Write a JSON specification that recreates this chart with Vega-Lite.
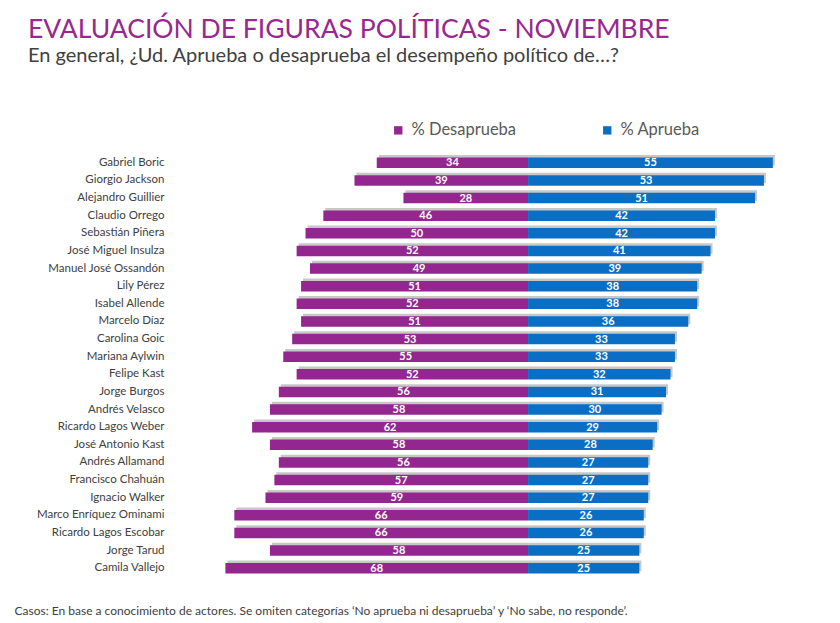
{
  "$schema": "https://vega.github.io/schema/vega-lite/v6.json",
  "width": 630,
  "height": 423,
  "autosize": {"type": "none"},
  "padding": {"left": 170, "top": 154, "right": 40, "bottom": 46},
  "background": "white",
  "title": {
    "text": "EVALUACIÓN DE FIGURAS POLÍTICAS - NOVIEMBRE",
    "subtitle": "En general, ¿Ud. Aprueba o desaprueba el desempeño político de…?",
    "anchor": "start",
    "frame": "group",
    "dx": -142,
    "offset": 56,
    "font": "Lato",
    "fontSize": 26.5,
    "fontWeight": "normal",
    "color": "#97288F",
    "subtitleFont": "Lato",
    "subtitleFontSize": 20,
    "subtitleColor": "#404040",
    "subtitlePadding": 3
  },
  "data": {
    "values": [
      {"name": "Gabriel Boric", "% Desaprueba": 34, "% Aprueba": 55},
      {"name": "Giorgio Jackson", "% Desaprueba": 39, "% Aprueba": 53},
      {"name": "Alejandro Guillier", "% Desaprueba": 28, "% Aprueba": 51},
      {"name": "Claudio Orrego", "% Desaprueba": 46, "% Aprueba": 42},
      {"name": "Sebastián Piñera", "% Desaprueba": 50, "% Aprueba": 42},
      {"name": "José Miguel Insulza", "% Desaprueba": 52, "% Aprueba": 41},
      {"name": "Manuel José Ossandón", "% Desaprueba": 49, "% Aprueba": 39},
      {"name": "Lily Pérez", "% Desaprueba": 51, "% Aprueba": 38},
      {"name": "Isabel Allende", "% Desaprueba": 52, "% Aprueba": 38},
      {"name": "Marcelo Díaz", "% Desaprueba": 51, "% Aprueba": 36},
      {"name": "Carolina Goic", "% Desaprueba": 53, "% Aprueba": 33},
      {"name": "Mariana Aylwin", "% Desaprueba": 55, "% Aprueba": 33},
      {"name": "Felipe Kast", "% Desaprueba": 52, "% Aprueba": 32},
      {"name": "Jorge Burgos", "% Desaprueba": 56, "% Aprueba": 31},
      {"name": "Andrés Velasco", "% Desaprueba": 58, "% Aprueba": 30},
      {"name": "Ricardo Lagos Weber", "% Desaprueba": 62, "% Aprueba": 29},
      {"name": "José Antonio Kast", "% Desaprueba": 58, "% Aprueba": 28},
      {"name": "Andrés Allamand", "% Desaprueba": 56, "% Aprueba": 27},
      {"name": "Francisco Chahuán", "% Desaprueba": 57, "% Aprueba": 27},
      {"name": "Ignacio Walker", "% Desaprueba": 59, "% Aprueba": 27},
      {"name": "Marco Enríquez Ominami", "% Desaprueba": 66, "% Aprueba": 26},
      {"name": "Ricardo Lagos Escobar", "% Desaprueba": 66, "% Aprueba": 26},
      {"name": "Jorge Tarud", "% Desaprueba": 58, "% Aprueba": 25},
      {"name": "Camila Vallejo", "% Desaprueba": 68, "% Aprueba": 25}
    ]
  },
  "transform": [
    {"fold": ["% Desaprueba", "% Aprueba"], "as": ["grupo", "pct"]},
    {"calculate": "datum.grupo === '% Desaprueba' ? -datum.pct : datum.pct", "as": "xv"},
    {"calculate": "datum.xv / 2", "as": "mid"}
  ],
  "encoding": {
    "y": {
      "field": "name",
      "type": "nominal",
      "sort": null,
      "scale": {"paddingInner": 0, "paddingOuter": 0},
      "axis": {
        "title": null,
        "domain": false,
        "ticks": false,
        "labelPadding": 6,
        "labelFont": "Lato",
        "labelFontSize": 11.5,
        "labelColor": "#404040",
        "labelLimit": 200
      }
    }
  },
  "layer": [
    {
      "mark": {"type": "rule", "color": "#a6a6a6", "strokeWidth": 1.2},
      "encoding": {"x": {"datum": 0, "type": "quantitative"}}
    },
    {
      "mark": {"type": "bar", "color": "#bdbdbd", "height": {"band": 0.6}, "xOffset": 2, "yOffset": -2.5, "opacity": 0.85},
      "encoding": {
        "x": {
          "field": "xv",
          "type": "quantitative",
          "scale": {"domain": [-80.45, 61.1], "nice": false, "zero": false},
          "axis": {
            "labels": false,
            "ticks": false,
            "domain": false,
            "grid": false,
            "title": "Casos: En base a conocimiento de actores. Se omiten categorías ‘No aprueba ni desaprueba’ y ‘No sabe, no responde’.",
            "titleAnchor": "start",
            "titleAlign": "left",
            "titleX": -156,
            "titleY": 28,
            "titleFont": "Lato",
            "titleFontSize": 12,
            "titleFontWeight": "normal",
            "titleColor": "#404040"
          }
        },
        "x2": {"datum": 0}
      }
    },
    {
      "mark": {"type": "bar", "height": {"band": 0.6}},
      "encoding": {
        "x": {"field": "xv", "type": "quantitative"},
        "x2": {"datum": 0},
        "color": {
          "field": "grupo",
          "type": "nominal",
          "scale": {"domain": ["% Desaprueba", "% Aprueba"], "range": ["#93278F", "#0A6FC4"]},
          "legend": {
            "title": null,
            "orient": "none",
            "legendX": 220,
            "legendY": -32,
            "direction": "horizontal",
            "symbolType": "square",
            "symbolSize": 70,
            "symbolStrokeWidth": 0,
            "labelFont": "Lato",
            "labelFontSize": 16.5,
            "labelColor": "#595959",
            "columnPadding": 82,
            "labelOffset": 5
          }
        }
      }
    },
    {
      "mark": {"type": "text", "color": "white", "font": "Lato", "fontWeight": "bold", "fontSize": 11, "baseline": "middle", "dy": 0.5},
      "encoding": {
        "x": {"field": "mid", "type": "quantitative"},
        "text": {"field": "pct", "type": "quantitative"}
      }
    }
  ],
  "config": {"view": {"stroke": null}}
}
